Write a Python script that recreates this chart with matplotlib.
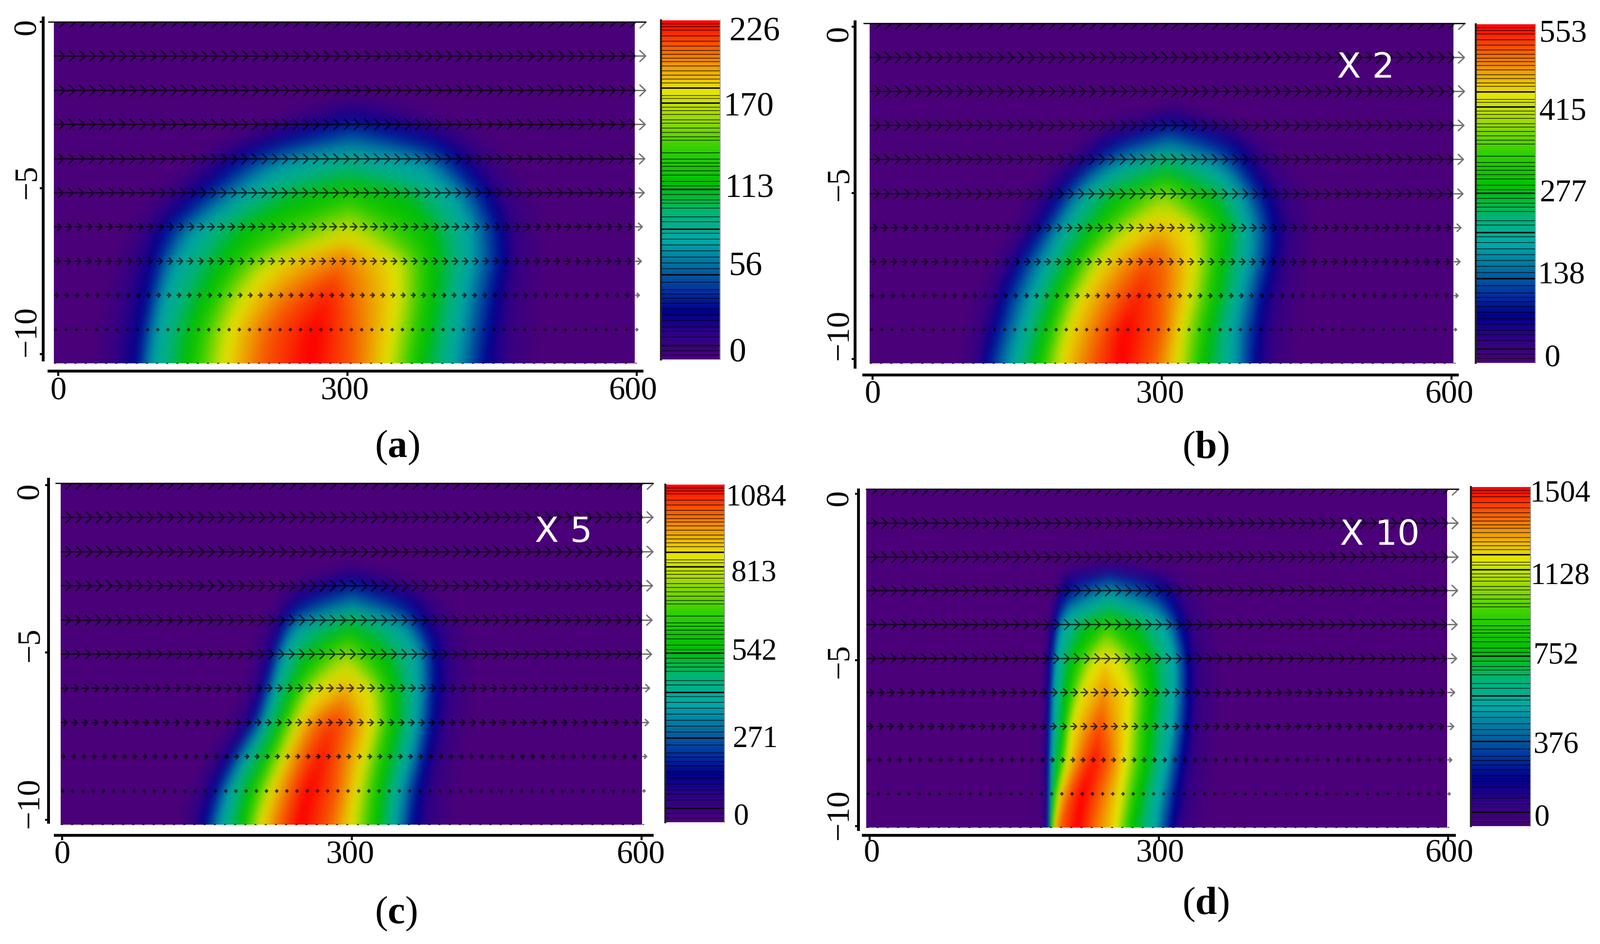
import numpy as np
import matplotlib
matplotlib.use("Agg")
import matplotlib.pyplot as plt
from matplotlib.colors import LinearSegmentedColormap
from matplotlib.path import Path

W, H = 3298, 1946
n = np.nan

plt.rcParams["font.family"] = ["Liberation Serif", "DejaVu Serif"]
plt.rcParams["mathtext.fontset"] = "custom"
plt.rcParams["mathtext.rm"] = "Liberation Serif"
plt.rcParams["mathtext.bf"] = "Liberation Serif:bold"

# colour scale (fraction of the maximum, colour)
scale_stops = [0, .08, .14, .20, .27, .35, .43, .52, .62, .70, .79, .86, .92, 1]
scale_colors = ["#4b0079", "#2a0088", "#00008c", "#0030a0", "#0068a0", "#00a8a8", "#00b478",
                "#00c000", "#30d000", "#90d800", "#e6e600", "#f0a000", "#f86000", "#ff0000"]

# the field is stored as the x position where each colour level is crossed, row by row
levels_up = [.05, .14, .35, .52, .79, .92]

a_depth = [0, -2, -2.5, -3, -3.5, -4, -4.5, -5, -6, -7, -8, -9, -10]
a_peak = [0, 0, .06, .16, .27, .38, .46, .55, .74, .90, .97, 1, 1]
a_center = [300, 310, 309, 309, 307, 304, 304, 307, 304, 297, 284, 270, 265]
a_left = [[n, n, n, n, n, n], [n, n, n, n, n, n], [287, n, n, n, n, n], [239, 289, n, n, n, n],
          [194, 229, n, n, n, n], [165, 194, 252, n, n, n], [145, 172, 219, n, n, n],
          [125, 152, 197, 264, n, n], [95, 115, 150, 202, n, n], [82, 103, 127, 177, 229, n],
          [72, 96, 115, 157, 199, 249], [65, 90, 107, 143, 183, 222], [60, 85, 102, 137, 177, 215]]
a_right = [[n, n, n, n, n, n], [n, n, n, n, n, n], [n, n, n, n, n, 339], [n, n, n, n, 334, 389],
           [n, n, n, n, 396, 424], [n, n, n, 372, 416, 444], [n, n, n, 391, 431, 454],
           [n, n, 352, 411, 446, 466], [n, n, 386, 429, 461, 476], [n, 352, 394, 431, 464, 479],
           [304, 354, 391, 424, 456, 473], [309, 349, 386, 419, 451, 470], [309, 344, 379, 414, 446, 468]]

b_depth = [0, -2, -2.5, -3, -3.5, -4, -4.5, -5, -6, -7, -8, -9, -10]
b_peak = [0, 0, .05, .14, .28, .42, .53, .68, .83, .93, .97, 1, 1]
b_center = [300, 310, 312, 312, 307, 307, 305, 302, 301, 287, 277, 262, 258]
b_left = [[n, n, n, n, n, n], [n, n, n, n, n, n], [n, n, n, n, n, n], [258, n, n, n, n, n],
          [230, 248, n, n, n, n], [213, 230, 265, n, n, n], [193, 210, 238, n, n, n],
          [178, 197, 220, 258, n, n], [161, 176, 198, 230, 272, n], [141, 153, 181, 208, 238, 280],
          [126, 138, 166, 192, 218, 255], [116, 129, 155, 181, 205, 238], [109, 119, 146, 171, 197, 228]]
b_right = [[n, n, n, n, n, n], [n, n, n, n, n, n], [n, n, n, n, n, n], [n, n, n, n, n, 362],
           [n, n, n, n, 372, 392], [n, n, n, 347, 384, 404], [n, n, n, 367, 394, 414],
           [n, n, 347, 379, 406, 426], [n, 329, 367, 391, 416, 434], [300, 333, 362, 389, 414, 429],
           [300, 328, 357, 382, 404, 421], [300, 320, 349, 374, 399, 414], [292, 316, 344, 374, 396, 411]]

c_depth = [0, -2, -2.5, -3, -3.5, -4, -4.5, -5, -6, -7, -8, -9, -10]
c_peak = [0, 0, .05, .15, .30, .45, .56, .70, .84, .95, .98, 1, 1]
c_center = [300, 300, 302, 302, 300, 300, 297, 295, 295, 282, 270, 255, 247]
c_left = [[n, n, n, n, n, n], [n, n, n, n, n, n], [n, n, n, n, n, n], [245, 292, n, n, n, n],
          [232, 245, n, n, n, n], [222, 232, 252, n, n, n], [215, 225, 237, 282, n, n],
          [209, 219, 230, 257, n, n], [200, 210, 220, 240, 262, n], [187, 199, 210, 227, 245, 267],
          [163, 176, 190, 212, 231, 250], [145, 159, 174, 195, 217, 237], [135, 148, 165, 187, 206, 227]]
c_right = [[n, n, n, n, n, n], [n, n, n, n, n, n], [n, n, n, n, n, n], [n, n, n, n, 312, 360],
           [n, n, n, n, 360, 379], [n, n, n, 345, 372, 392], [n, n, 312, 360, 382, 399],
           [n, n, 332, 368, 387, 404], [n, 317, 345, 369, 387, 404], [295, 321, 345, 367, 384, 399],
           [287, 312, 337, 360, 377, 392], [285, 305, 330, 350, 369, 384], [277, 300, 327, 345, 364, 382]]

d_depth = [0, -2, -2.2, -2.5, -2.75, -3, -3.5, -4, -5, -6, -7, -8, -9, -10]
d_peak = [0, 0, .02, .12, .25, .32, .42, .58, .80, .87, .93, .98, 1, 1]
d_center = [250, 250, 251, 251, 251, 251, 251, 249, 246, 246, 241, 236, 223, 218]
d_left = [[n, n, n, n, n, n], [n, n, n, n, n, n], [n, n, n, n, n, n], [204, n, n, n, n, n],
          [200, 211, n, n, n, n], [199, 204, n, n, n, n], [194, 199, 213, n, n, n],
          [190, 194, 203, 231, n, n], [186, 190, 197, 213, 239, n], [185, 189, 194, 207, 223, n],
          [185, 188, 193, 203, 213, 236], [184, 188, 191, 199, 209, 223], [184, 188, 190, 194, 199, 209],
          [185, 188, 189, 191, 194, 200]]
d_right = [[n, n, n, n, n, n], [n, n, n, n, n, n], [n, n, n, n, n, n], [n, n, n, n, n, 300],
           [n, n, n, n, 298, 315], [n, n, n, n, 310, 323], [n, n, n, 292, 318, 332],
           [n, n, 272, 308, 326, 338], [n, 257, 292, 318, 332, 343], [n, 271, 295, 318, 333, 343],
           [245, 269, 292, 315, 331, 341], [251, 267, 290, 310, 326, 338], [241, 262, 282, 303, 321, 333],
           [233, 257, 275, 298, 315, 326]]

# arrows: one row per depth, tail to tip length in x units
arrow_depth = [0, -1, -2, -3, -4, -5, -6, -7, -8, -9, -10]
arrow_len = [11.5, 11, 11, 10.5, 10, 9.5, 7.5, 6.5, 4.5, 3, 1.5]
arrow_count = 58

# dark stripes on the colour bars, fraction of the maximum
stripes_thin = [.99, .981, .972, .954, .939, .924, .911, .9, .889, .878, .865, .851, .839, .827, .816,
                .778, .769, .744, .734, .722, .707, .696, .683, .67, .657, .646, .61, .591, .58, .569,
                .556, .543, .525, .512, .486, .471, .46, .447, .42, .407, .372, .355, .337, .32, .302,
                .285, .267, .228, .206, .193, .18, .166, .149, .131, .114, .096, .083, .066, .026, .013]
stripes_strong = [.801, .757, .502, .385, .25, .042]

cmap = LinearSegmentedColormap.from_list("field", list(zip(scale_stops, scale_colors)), N=512)

chevron = Path([(0, 0), (1, 0), (.42, .55), (1, 0), (.42, -.55)],
               [Path.MOVETO, Path.LINETO, Path.MOVETO, Path.LINETO, Path.LINETO])

fig = plt.figure(figsize=(W / 100, H / 100), dpi=100)


def box(left, top, right, bottom):
    return [left / W, 1 - bottom / H, (right - left) / W, (bottom - top) / H]


def label(x, y, s, **kw):
    kw.setdefault("fontsize", 48)
    fig.text(x / W, 1 - y / H, s, ha="center", va="center", **kw)


def bare(ax):
    ax.set_xticks([])
    ax.set_yticks([])
    for spine in ax.spines.values():
        spine.set_visible(False)


def smooth_1d(img, sigma, axis):
    r = int(3 * sigma)
    k = np.exp(-0.5 * (np.arange(-r, r + 1) / sigma) ** 2)
    k = k / k.sum()
    pad = [(0, 0)] * img.ndim
    pad[axis] = (r, r)
    padded = np.pad(img, pad, mode="edge")
    return np.apply_along_axis(lambda v: np.convolve(v, k, mode="valid"), axis, padded)


# soften the rendered field, the source picture is blurred too
def make_blur(sx, sy):
    def blur(img, dpi):
        out = smooth_1d(smooth_1d(img, sx, 1), sy, 0)
        return np.clip(out, 0, 1), 0, 0
    return blur


def plot_field(rect, vmax, depth, peak, center, left, right, fade, soft):
    depth = np.array(depth, float)
    peak = np.array(peak, float)[:, None]
    center = np.array(center, float)[:, None]
    left = np.array(left, float)
    right = np.array(right, float)
    rows = len(depth)

    up = np.array(levels_up)
    level = np.concatenate([[0, 0], up, [1], up[::-1], [0, 0]])
    x = np.hstack([np.zeros((rows, 1)),
                   left[:, :1] - fade[0], left, center, right, right[:, -1:] + fade[1],
                   np.full((rows, 1), 600.0)])
    edge = np.arange(x.shape[1]) % (x.shape[1] - 1) == 0
    x = np.where(np.isnan(x), center, x)
    x[:, edge] = [0, 600]
    y = np.tile(depth[:, None], (1, x.shape[1]))
    z = np.minimum(level[None, :], peak) * vmax

    ax = fig.add_axes(box(*rect))
    steps = np.linspace(0, 1, 257) * vmax
    steps[0] = -vmax * .01
    cs = ax.contourf(x, y, z, levels=steps, cmap=cmap, vmin=0, vmax=vmax)
    cs.set_agg_filter(make_blur(*soft))
    ax.set_xlim(0, 600)
    ax.set_ylim(-10, 0)
    ax.set_facecolor(scale_colors[0])
    bare(ax)


def plot_arrows(rect):
    l, t, r, b = rect
    extra = 26
    ax = fig.add_axes(box(l, t, r + extra, b))
    ax.patch.set_alpha(0)
    ax.set_xlim(0, 600 * (r + extra - l) / (r - l))
    ax.set_ylim(-10, 0)
    bare(ax)
    tails = np.linspace(0, 600, arrow_count)
    px = (r - l) / 600
    for d, length in zip(arrow_depth, arrow_len):
        ms = 2 * length * px * 0.72
        ax.plot(tails[:-1], np.full(arrow_count - 1, d), ls="none", marker=chevron, ms=ms, mfc="none",
                mec="black", mew=2.0, alpha=.72)
        ax.plot(tails[-1:], [d], ls="none", marker=chevron, ms=ms, mfc="none", mec="#707070", mew=2.0)


def plot_colorbar(rect, vmax, ticks, spots, size):
    ax = fig.add_axes(box(*rect))
    ramp = np.linspace(0, 1, 512)[:, None]
    ax.imshow(ramp, cmap=cmap, origin="lower", aspect="auto", extent=[0, 1, 0, vmax], vmin=0, vmax=1)
    ax.hlines(np.array(stripes_thin) * vmax, 0, 1, color="black", lw=1.4, alpha=.6)
    ax.hlines(np.array(stripes_strong) * vmax, 0, 1, color="black", lw=2.2, alpha=.95)
    bare(ax)
    ax.spines["left"].set_visible(True)
    ax.spines["left"].set_color("#202020")
    ax.spines["left"].set_linewidth(3)
    ax.spines["right"].set_visible(True)
    ax.spines["right"].set_color("#a0a0a0")
    ax.spines["right"].set_linewidth(1.5)
    for text, (x, y) in zip(ticks, spots):
        label(x, y, text, fontsize=size)


def plot_axes(x_line, x_span, x_marks, x_spots, y_line, y_span, y_marks, y_spots, top_line):
    # bottom axis, placed with pixel extents but ticks in data units
    per_x = 600 / (x_marks[1] - x_marks[0])
    ax = fig.add_axes(box(x_span[0], x_line, x_span[1], x_line + 1))
    ax.patch.set_alpha(0)
    ax.set_xlim((x_span[0] - x_marks[0]) * per_x, (x_span[1] - x_marks[0]) * per_x)
    ax.set_yticks([])
    ax.set_xticks([0, 300, 600], labels=[])
    ax.tick_params(axis="x", length=7, width=3)
    for name, spine in ax.spines.items():
        spine.set_visible(name == "bottom")
    ax.spines["bottom"].set_linewidth(4.2)

    # left axis
    per_y = 10 / (y_marks[1] - y_marks[0])
    ax = fig.add_axes(box(y_line, y_span[0], y_line + 1, y_span[1]))
    ax.patch.set_alpha(0)
    ax.set_ylim(-(y_span[1] - y_marks[0]) * per_y, -(y_span[0] - y_marks[0]) * per_y)
    ax.set_xticks([])
    ax.set_yticks([0, -5, -10], labels=[])
    ax.tick_params(axis="y", length=5, width=3)
    for name, spine in ax.spines.items():
        spine.set_visible(name == "left")
    ax.spines["left"].set_linewidth(4.2)

    for text, x in zip(["0", "300", "600"], x_spots[0]):
        label(x, x_spots[1], text)
    for text, y in zip(["0", "\u22125", "\u221210"], y_spots[1]):
        label(y_spots[0], y, text, rotation=90)

    # thin line along the top of the field
    ax = fig.add_axes(box(top_line[0], top_line[2], top_line[1], top_line[2] + 1))
    bare(ax)
    ax.spines["top"].set_visible(True)
    ax.spines["top"].set_linewidth(1.8)
    ax.patch.set_alpha(0)


# panel (a)
rect_a = (111, 45, 1308, 749)
plot_field(rect_a, 226, a_depth, a_peak, a_center, a_left, a_right, (25, 35), (10, 18))
plot_arrows(rect_a)
plot_colorbar((1362, 42, 1484, 741), 226, ["226", "170", "113", "56", "0"],
              [(1555, 67), (1543, 222), (1545, 390), (1537, 551), (1520, 729)], 50)
plot_axes(764, (101, 1323), (120, 1312), ((120, 711, 1304), 807),
          89, (37, 742), (45, 730), (57, (55, 374, 683)), (100, 1330, 45))

# panel (b)
rect_b = (1792, 48, 2995, 749)
plot_field(rect_b, 553, b_depth, b_peak, b_center, b_left, b_right, (22, 30), (9, 18))
plot_arrows(rect_b)
plot_colorbar((3041, 50, 3164, 748), 553, ["553", "415", "277", "138", "0"],
              [(3221, 70), (3221, 231), (3221, 399), (3217, 568), (3199, 739)], 47)
plot_axes(772, (1780, 3003), (1798, 2991), ((1798, 2391, 2986), 814),
          1762, (45, 757), (55, 740), (1731, (69, 379, 690)), (1780, 3018, 48))

# panel (c)
rect_c = (125, 996, 1323, 1700)
plot_field(rect_c, 1084, c_depth, c_peak, c_center, c_left, c_right, (18, 28), (8, 18))
plot_arrows(rect_c)
plot_colorbar((1371, 999, 1493, 1695), 1084, ["1084", "813", "542", "271", "0"],
              [(1558, 1026), (1554, 1182), (1554, 1344), (1556, 1525), (1527, 1685)], 45)
plot_axes(1721, (114, 1344), (128, 1322), ((128, 722, 1320), 1763),
          100, (988, 1695), (1000, 1690), (63, (1012, 1329, 1655)), (115, 1345, 996))

# panel (d)
rect_d = (1785, 1008, 2982, 1706)
plot_field(rect_d, 1504, d_depth, d_peak, d_center, d_left, d_right, (6, 25), (4, 16))
plot_arrows(rect_d)
plot_colorbar((3031, 1004, 3154, 1703), 1504, ["1504", "1128", "752", "376", "0"],
              [(3215, 1018), (3215, 1189), (3207, 1352), (3207, 1536), (3177, 1687)], 45)
plot_axes(1721, (1779, 2997), (1792, 2984), ((1796, 2391, 2986), 1760),
          1769, (1010, 1710), (1018, 1703), (1731, (1026, 1363, 1679)), (1785, 3005, 1008))

# scale factors written on the fields
for text, x, y in [("X 2", 2814, 140), ("X 5", 1161, 1098), ("X 10", 2843, 1104)]:
    label(x, y, text, color="white", family="DejaVu Sans", fontsize=52)

# captions
for text, x, y in [("a", 818, 923), ("b", 2484, 925), ("c", 816, 1884), ("d", 2484, 1865)]:
    label(x, y, "($\\mathbf{%s}$)" % text, fontsize=58)

fig.savefig("out.png", dpi=100, facecolor="white")
